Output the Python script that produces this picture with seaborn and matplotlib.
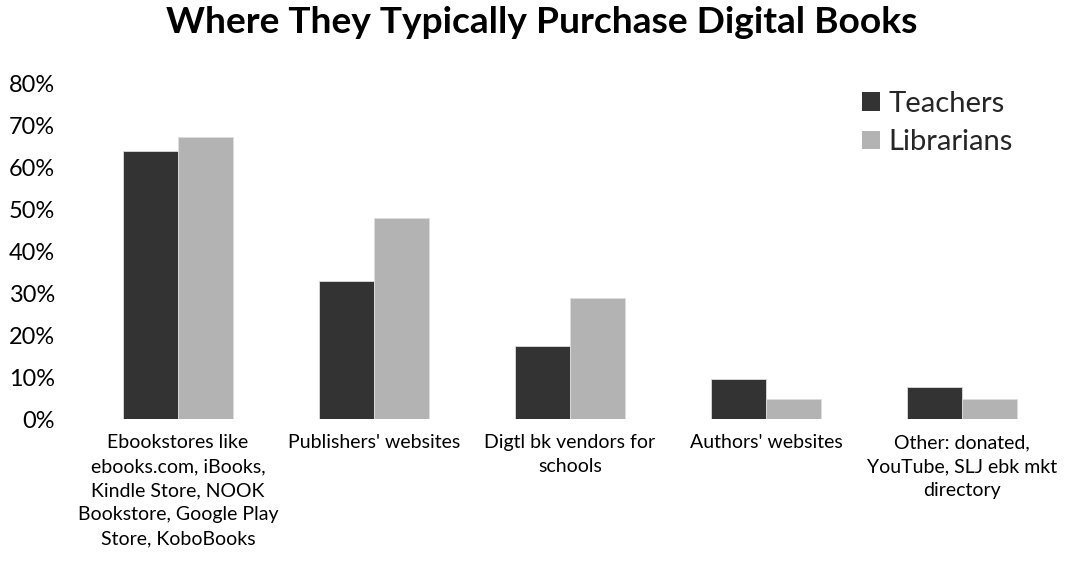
import matplotlib
matplotlib.use("Agg")
import matplotlib.pyplot as plt
import seaborn as sns
import pandas as pd
from matplotlib.ticker import PercentFormatter
from matplotlib.patches import Patch

categories = [
    "Ebookstores like\nebooks.com, iBooks,\nKindle Store, NOOK\nBookstore, Google Play\nStore, KoboBooks",
    "Publishers' websites",
    "Digtl bk vendors for\nschools",
    "Authors' websites",
    "Other: donated,\nYouTube, SLJ ebk mkt\ndirectory",
]
teachers = [0.64, 0.33, 0.174, 0.096, 0.076]
librarians = [0.673, 0.479, 0.288, 0.048, 0.048]
series = ["Teachers", "Librarians"]
colors = ["#333333", "#b3b3b3"]
yticks = [0, 0.1, 0.2, 0.3, 0.4, 0.5, 0.6, 0.7, 0.8]
title = "Where They Typically Purchase Digital Books"

df = pd.DataFrame({
    "category": categories * 2,
    "value": teachers + librarians,
    "series": [series[0]] * len(categories) + [series[1]] * len(categories),
})

sns.set_theme(style="white")
FONT = ["Lato", "DejaVu Sans"]
plt.rcParams["font.family"] = FONT

W, H = 1084, 562
fig = plt.figure(figsize=(W / 100, H / 100), dpi=100)
renderer = fig.canvas.get_renderer()


def fit(text, target_px, weight="normal"):
    t = fig.text(0, 0, text, fontsize=10, fontweight=weight)
    w = t.get_window_extent(renderer).width
    t.remove()
    return 10 * target_px / w


ax = fig.add_axes([80 / W, 1 - 419 / H, 980 / W, (419 - 84) / H])

sns.barplot(data=df, x="category", y="value", hue="series", order=categories,
            hue_order=series, palette=colors, width=0.56, ax=ax,
            edgecolor="#dddddd", linewidth=0.6, saturation=1, legend=False)

xfs = fit("Publishers' websites", 173)
yfs = fit("80%", 46)
lfs = fit("Librarians", 125)
tfs = fit(title, 754, "bold")

ax.set_xlim(-0.5, len(categories) - 0.5)
ax.set_ylim(0, 0.8)
ax.set_yticks(yticks)
ax.yaxis.set_major_formatter(PercentFormatter(1.0, decimals=0))
ax.set_xticks(range(len(categories)))
ax.set_xticklabels(categories, linespacing=1.5, fontsize=xfs)
ax.tick_params(axis="y", labelsize=yfs, pad=18, length=0, colors="#000000")
ax.tick_params(axis="x", pad=11, length=0, colors="#000000")
ax.set_xlabel("")
ax.set_ylabel("")
for s in ax.spines.values():
    s.set_visible(False)
ax.grid(False)

handles = [Patch(facecolor=c, edgecolor="none") for c in colors]
fig.legend(handles, series, loc="upper left",
           bbox_to_anchor=(862 / W, 1 - 91 / H), bbox_transform=fig.transFigure,
           frameon=False, fontsize=lfs, handlelength=0.62, handleheight=0.62,
           handletextpad=0.27, labelspacing=0.42, borderpad=0, borderaxespad=0)

fig.text(542 / W, 1 - 33 / H, title, ha="center", va="baseline",
         fontsize=tfs, fontweight="bold", color="#000000")

fig.savefig("out.png", dpi=100)
